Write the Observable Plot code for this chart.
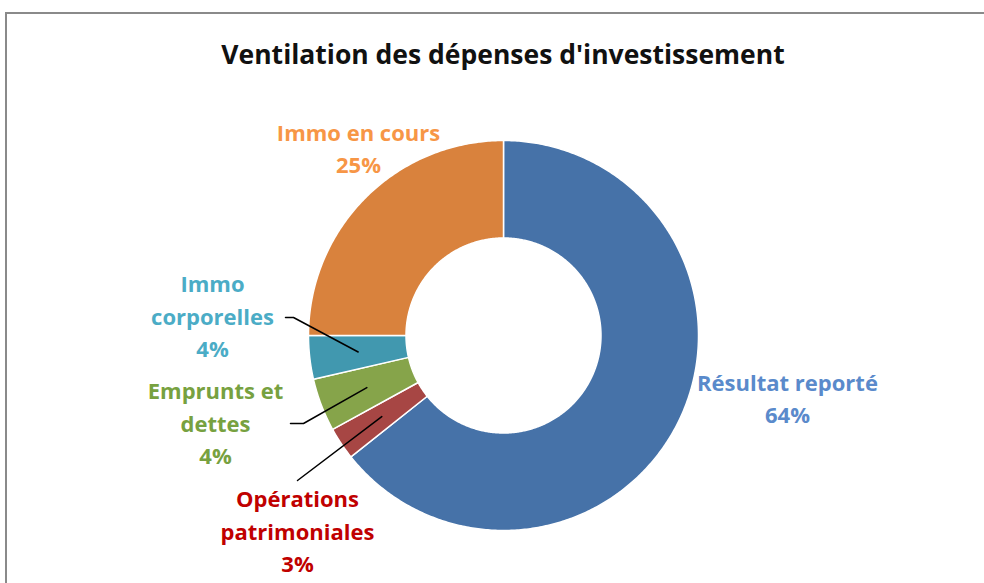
<!DOCTYPE html>
<html>
<head>
<meta charset="utf-8">
<script src="https://cdn.jsdelivr.net/npm/d3@7"></script>
<script src="https://cdn.jsdelivr.net/npm/@observablehq/plot@0.6"></script>
<style>
  html, body { margin: 0; padding: 0; background: #fff; }
  #wrap { position: relative; width: 984px; height: 583px; overflow: hidden; font-family: "Open Sans", sans-serif; }
  #frame { position: absolute; left: 5px; top: 12px; width: 1200px; height: 800px; border-left: 2px solid #8a8a8a; border-top: 2px solid #8a8a8a; box-sizing: border-box; }
  #title { position: absolute; left: 0; width: 1006px; top: 36px; text-align: center; font-weight: bold; font-size: 26.5px; color: #111; line-height: 36px; }
  #chart { position: absolute; left: 0; top: 0; }
</style>
</head>
<body>
<div id="wrap">
  <div id="frame"></div>
  <div id="chart"></div>
  <div id="title">Ventilation des dépenses d'investissement</div>
</div>
<script>
// ---- data ----
const categories = ["Résultat reporté", "Opérations patrimoniales", "Emprunts et dettes", "Immo corporelles", "Immo en cours"];
const values = [64.3, 2.7, 4.4, 3.6, 25.0];
const labelTexts = ["Résultat reporté\n64%", "Opérations\npatrimoniales\n3%", "Emprunts et\ndettes\n4%", "Immo\ncorporelles\n4%", "Immo en cours\n25%"];
const sliceColors = ["#4672A8", "#A74644", "#86A44A", "#4198AF", "#D9823D"];
const labelColors = ["#5A8ACB", "#C00000", "#77A140", "#4BACC6", "#F79646"];

// ---- layout (pixels) ----
const W = 984, H = 583, CX = 503, CY = 335, R = 195, INNER = 0.5;
const labelPos = [[787, 396], [297, 529], [215, 421], [212, 314], [358, 146]];
const leaderStart = [null, [[297, 480]], [[290, 423], [303, 423]], [[285, 317], [293, 317]], null];

const px = p => (p - CX) / R;
const py = p => (CY - p) / R;

const pie = d3.pie().sort(null).value(d => d)(values);
const ring = [];
pie.forEach((s, i) => {
  const n = Math.max(4, Math.ceil((s.endAngle - s.startAngle) / 0.01));
  const pts = [];
  for (let k = 0; k <= n; k++) {
    const a = s.startAngle + (s.endAngle - s.startAngle) * k / n;
    pts.push({x: Math.sin(a), y: Math.cos(a)});
  }
  for (let k = n; k >= 0; k--) {
    const a = s.startAngle + (s.endAngle - s.startAngle) * k / n;
    pts.push({x: INNER * Math.sin(a), y: INNER * Math.cos(a)});
  }
  pts.push(pts[0]);
  pts.forEach(p => ring.push({...p, name: categories[i], color: sliceColors[i]}));
});

const labels = categories.map((c, i) => ({
  x: px(labelPos[i][0]), y: py(labelPos[i][1]), text: labelTexts[i], color: labelColors[i]
}));

const leaders = [];
pie.forEach((s, i) => {
  if (!leaderStart[i]) return;
  const mid = (s.startAngle + s.endAngle) / 2;
  leaderStart[i].forEach(p => leaders.push({x: px(p[0]), y: py(p[1]), name: categories[i]}));
  leaders.push({x: 0.75 * Math.sin(mid), y: 0.75 * Math.cos(mid), name: categories[i]});
});

const chart = Plot.plot({
  width: W, height: H,
  marginTop: 0, marginRight: 0, marginBottom: 0, marginLeft: 0,
  x: {domain: [px(0), px(W)], axis: null},
  y: {domain: [py(H), py(0)], axis: null},
  color: {type: "identity"},
  style: {background: "transparent", overflow: "visible"},
  marks: [
    Plot.line(ring, {x: "x", y: "y", z: "name", fill: "color", stroke: "white", strokeWidth: 1.5, curve: "linear"}),
    Plot.line(leaders, {x: "x", y: "y", z: "name", stroke: "black", strokeWidth: 1.5, curve: "linear"}),
    Plot.text(labels, {x: "x", y: "y", text: "text", fill: "color", fontSize: 22, fontWeight: "bold", lineHeight: 1.48, fontFamily: "'Open Sans', sans-serif"})
  ]
});
document.getElementById("chart").appendChild(chart);
</script>
</body>
</html>
